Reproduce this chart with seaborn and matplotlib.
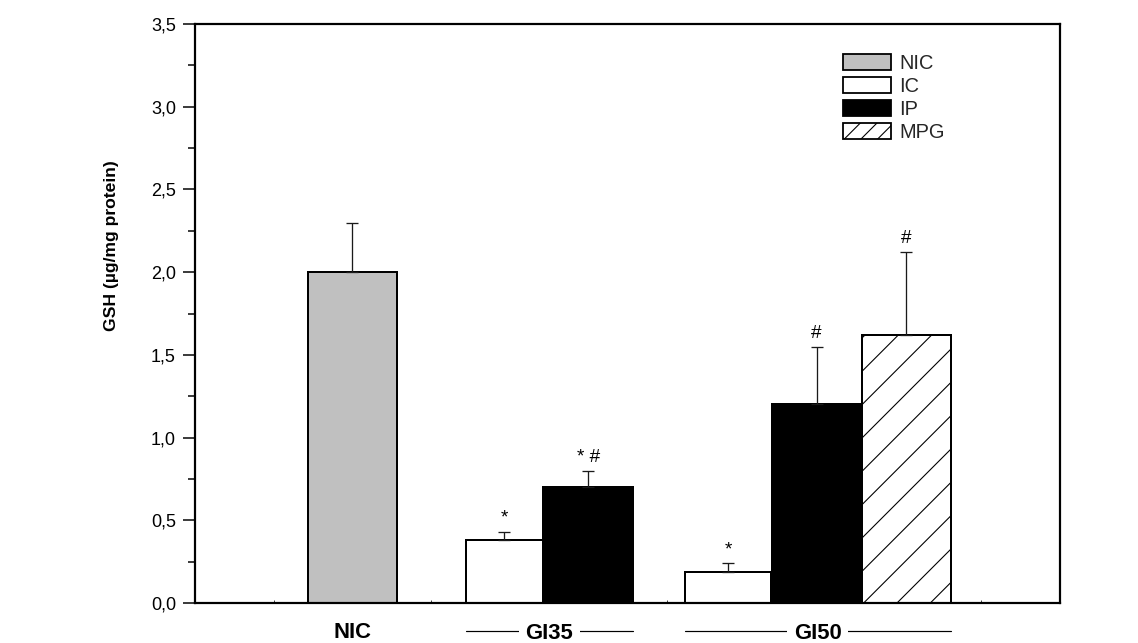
import numpy as np
import pandas as pd
import matplotlib
matplotlib.use("Agg")
import matplotlib.pyplot as plt
import matplotlib.transforms as mtransforms
from matplotlib.patches import Patch
from matplotlib.ticker import FuncFormatter, MultipleLocator
import seaborn as sns

# GSH content (mean and SD) for each experimental group
groups = ["NIC", "GI35", "GI35", "GI50", "GI50", "GI50"]
treatments = ["NIC", "IC", "IP", "IC", "IP", "MPG"]
gsh_mean = [2.00, 0.38, 0.70, 0.19, 1.20, 1.62]
gsh_sd = [0.30, 0.05, 0.10, 0.05, 0.35, 0.50]
significance = ["", "*", "* #", "*", "#", "#"]
legend_order = ["NIC", "IC", "IP", "MPG"]
y_ticks = [0.0, 0.5, 1.0, 1.5, 2.0, 2.5, 3.0, 3.5]
y_label = "GSH (µg/mg protein)"

# bar layout along the x axis (data units)
bar_center = [2.0, 3.93, 5.0, 6.78, 7.905, 9.045]
bar_width = [1.13, 0.98, 1.15, 1.10, 1.145, 1.135]

fills = {"NIC": "#c0c0c0", "IC": "white", "IP": "black", "MPG": "white"}
hatches = {"MPG": "/"}

W, H, DPI = 1138, 643, 100


def pt(px):
    """Convert a size in output pixels to points."""
    return px * 72.0 / DPI


sns.set_theme(style="ticks")
plt.rcParams["font.family"] = ["Liberation Sans", "DejaVu Sans"]
plt.rcParams["hatch.linewidth"] = pt(1.1)
plt.rcParams["hatch.color"] = "black"
plt.rcParams["axes.edgecolor"] = "black"

fig = plt.figure(figsize=(W / DPI, H / DPI), dpi=DPI, facecolor="white")
ax = fig.add_axes([195 / W, (H - 603) / H, 865 / W, 579 / H])
ax.set_facecolor("white")

df = pd.DataFrame({
    "group": groups,
    "treatment": treatments,
    "gsh": gsh_mean,
    "pos": bar_center,
})

sns.barplot(
    data=df, x="pos", y="gsh", hue="treatment", palette=fills,
    native_scale=True, dodge=False, errorbar=None, saturation=1,
    edgecolor="black", linewidth=pt(2.0), legend=False, ax=ax,
)

# set each bar's exact footprint and hatch
bars = sorted(ax.patches, key=lambda p: p.get_x() + p.get_width() / 2)
for bar, c, w, t in zip(bars, bar_center, bar_width, treatments):
    bar.set_x(c - w / 2)
    bar.set_width(w)
    if t in hatches:
        bar.set_hatch(hatches[t])

# upper SD whiskers
ax.errorbar(
    bar_center, gsh_mean, yerr=[np.zeros(len(gsh_sd)), gsh_sd],
    fmt="none", ecolor="#1a1a1a", elinewidth=pt(1.3),
    capsize=pt(6), capthick=pt(1.3), zorder=3,
)

# significance marks above whiskers
for c, m, s, lab in zip(bar_center, gsh_mean, gsh_sd, significance):
    if lab:
        ax.annotate(lab, (c, m + s), xytext=(0, pt(5)), textcoords="offset points",
                    ha="center", va="bottom", fontsize=pt(19), color="black")

# axes, ticks and frame
ax.set_xlim(0, 11)
ax.set_ylim(0, 3.5)
ax.set_yticks(y_ticks)
ax.yaxis.set_minor_locator(MultipleLocator(0.25))
ax.yaxis.set_major_formatter(FuncFormatter(lambda v, _: f"{v:.1f}".replace(".", ",")))
ax.tick_params(axis="y", which="major", direction="out", length=pt(12), width=pt(1.5),
               pad=pt(7), labelsize=pt(18), color="black", labelcolor="black")
ax.tick_params(axis="y", which="minor", direction="out", length=pt(7), width=pt(1.5),
               color="black")
ax.set_xticks(range(1, 11))
ax.set_xticklabels([])
ax.tick_params(axis="x", which="major", direction="in", length=pt(3), width=pt(1),
               color="#444444")
ax.set_xlabel("")
for sp in ax.spines.values():
    sp.set_visible(True)
    sp.set_color("black")
    sp.set_linewidth(pt(2.2))

ax.set_ylabel(y_label, fontsize=pt(17.5), fontweight="bold", color="black")
ax.yaxis.set_label_coords(-0.088, 0.618)

# group labels under the axis
trans = mtransforms.blended_transform_factory(ax.transData, ax.transAxes)
seen = []
for g in groups:
    if g not in seen:
        seen.append(g)
for g in seen:
    idx = [i for i, gg in enumerate(groups) if gg == g]
    left = min(bar_center[i] - bar_width[i] / 2 for i in idx)
    right = max(bar_center[i] + bar_width[i] / 2 for i in idx)
    mid = (left + right) / 2
    if len(idx) == 1:
        ax.text(mid, -0.0600, g, transform=trans, ha="center", va="baseline",
                fontsize=pt(22), fontweight="bold", color="black", clip_on=False)
    else:
        ax.plot([left, right], [-0.0485, -0.0485], transform=trans, color="black",
                lw=pt(1.2), clip_on=False)
        ax.text(mid, -0.0620, g, transform=trans, ha="center", va="baseline",
                fontsize=pt(22), fontweight="bold", color="black", clip_on=False,
                bbox=dict(boxstyle="square,pad=0.3", facecolor="white", edgecolor="none"))

# legend
handles = [
    Patch(facecolor=fills[t], edgecolor="black", linewidth=pt(1.8),
          hatch=hatches.get(t, "") * 2, label=t)
    for t in legend_order
]
fs = 20
ax.legend(handles=handles, loc="upper left",
          bbox_to_anchor=((843 - 195) / 865, (603 - 54) / 579),
          frameon=False, fontsize=pt(fs), handlelength=48 / fs, handleheight=17 / fs,
          handletextpad=8 / fs, labelspacing=0.2, borderpad=0, borderaxespad=0)

fig.savefig("out.png", dpi=DPI, facecolor="white")
